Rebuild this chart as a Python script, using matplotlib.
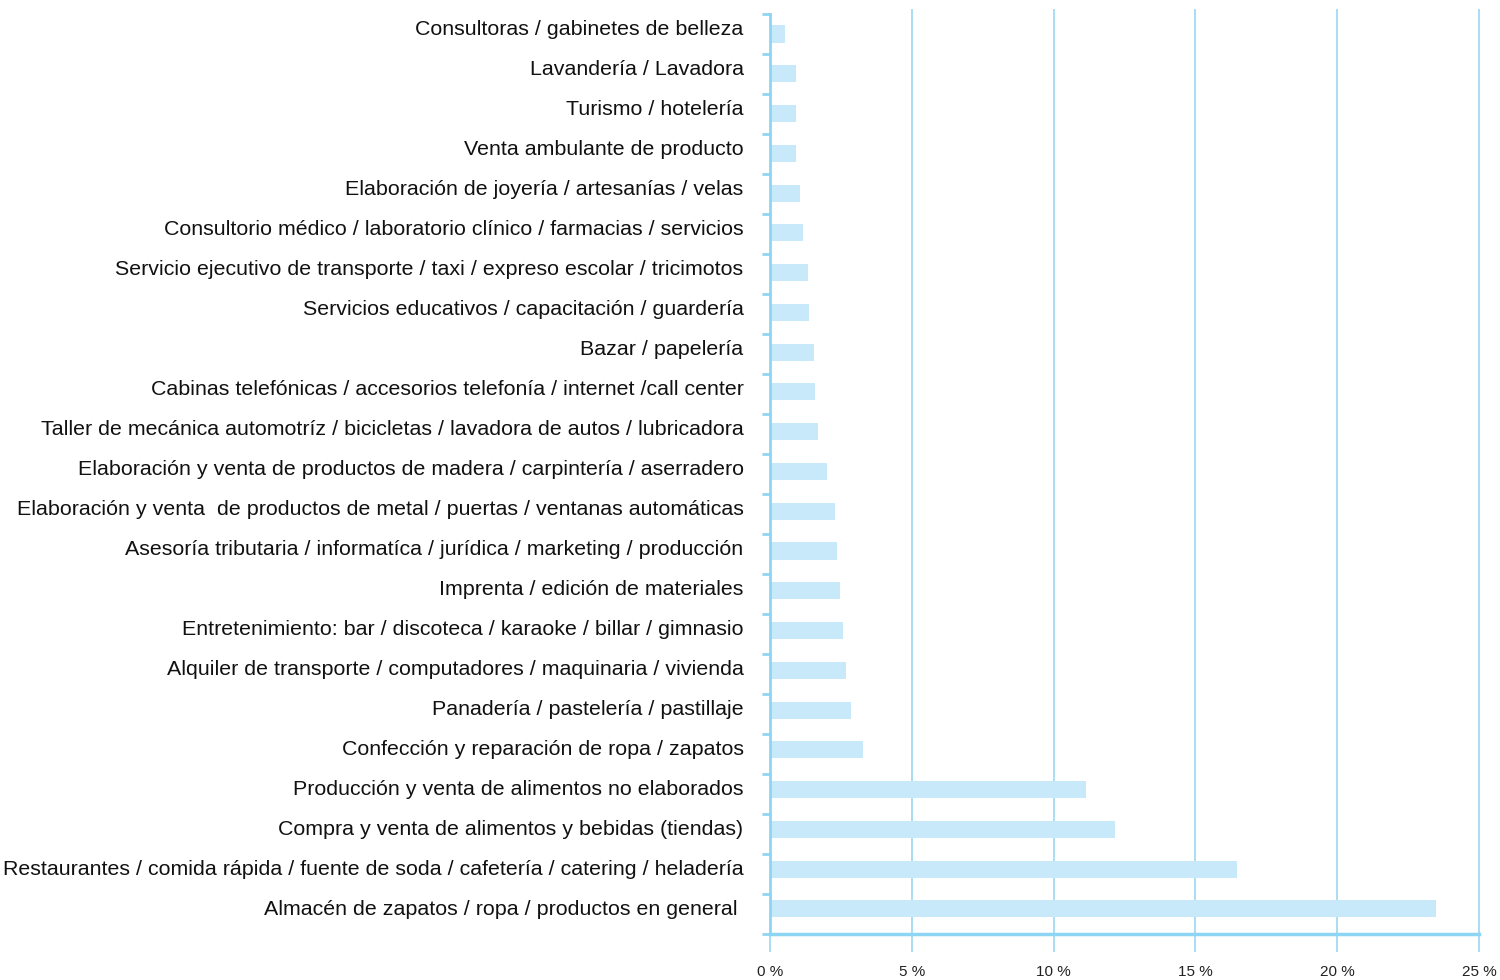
import numpy as np
import matplotlib.pyplot as plt
from matplotlib.ticker import FixedLocator

plt.rcParams['font.family'] = ['Liberation Sans', 'DejaVu Sans']

# categories listed top to bottom, shares in percent
categories = [
    'Consultoras / gabinetes de belleza',
    'Lavandería / Lavadora',
    'Turismo / hotelería',
    'Venta ambulante de producto',
    'Elaboración de joyería / artesanías / velas',
    'Consultorio médico / laboratorio clínico / farmacias / servicios',
    'Servicio ejecutivo de transporte / taxi / expreso escolar / tricimotos',
    'Servicios educativos / capacitación / guardería',
    'Bazar / papelería',
    'Cabinas telefónicas / accesorios telefonía / internet /call center',
    'Taller de mecánica automotríz / bicicletas / lavadora de autos / lubricadora',
    'Elaboración y venta de productos de madera / carpintería / aserradero',
    'Elaboración y venta  de productos de metal / puertas / ventanas automáticas',
    'Asesoría tributaria / informatíca / jurídica / marketing / producción',
    'Imprenta / edición de materiales',
    'Entretenimiento: bar / discoteca / karaoke / billar / gimnasio',
    'Alquiler de transporte / computadores / maquinaria / vivienda',
    'Panadería / pastelería / pastillaje',
    'Confección y reparación de ropa / zapatos',
    'Producción y venta de alimentos no elaborados',
    'Compra y venta de alimentos y bebidas (tiendas)',
    'Restaurantes / comida rápida / fuente de soda / cafetería / catering / heladería',
    'Almacén de zapatos / ropa / productos en general ',
]
shares = [0.53, 0.92, 0.92, 0.92, 1.06, 1.16, 1.34, 1.38, 1.55, 1.59, 1.69,
          2.01, 2.29, 2.36, 2.47, 2.57, 2.68, 2.86, 3.28, 11.14, 12.17,
          16.47, 23.48]
x_ticks = [0, 5, 10, 15, 20, 25]
x_labels = ['0 %', '5 %', '10 %', '15 %', '20 %', '25 %']

bar_col = '#c7e9f9'
grid_col = '#a3dbf4'
axis_col = '#8ed4f3'

n = len(categories)
# the bars sit on a slightly tighter pitch than the label rows
row = 40.0 / 39.77
pos = np.arange(n)

fig = plt.figure(figsize=(15, 9.8), dpi=100)
ax = fig.add_axes([770 / 1500, 1 - 934 / 980, 709 / 1500, 920 / 980])

ax.barh(pos, shares, height=0.43, color=bar_col, zorder=2)

top = -0.503
ax.set_xlim(0, 25)
ax.set_ylim(top + n * row, top)

# vertical grid lines, slightly past the plot area at top and bottom
ax.vlines(x_ticks[1:], top - 0.12, top + n * row, colors=grid_col,
          linewidth=1.3, clip_on=False, zorder=1)

ax.set_xticks(x_ticks)
ax.set_xticklabels(x_labels, fontsize=11, color='#222222')
ax.tick_params(axis='x', direction='out', length=13, width=1.3,
               color=grid_col, pad=9)

ax.set_yticks(top + (pos + 0.5) * row - 0.16)
ax.set_yticklabels(categories, fontsize=15.4, color='#111111')
ax.yaxis.set_minor_locator(FixedLocator(top + np.arange(n + 1) * row))
ax.tick_params(axis='y', which='major', length=0, pad=19)
ax.tick_params(axis='y', which='minor', direction='out', length=6,
               width=2, color=axis_col)

for s in ['top', 'right']:
    ax.spines[s].set_visible(False)
ax.spines['left'].set_color(axis_col)
ax.spines['left'].set_linewidth(2)
ax.spines['bottom'].set_color(axis_col)
ax.spines['bottom'].set_linewidth(2.5)

fig.savefig('out.png', dpi=100)
